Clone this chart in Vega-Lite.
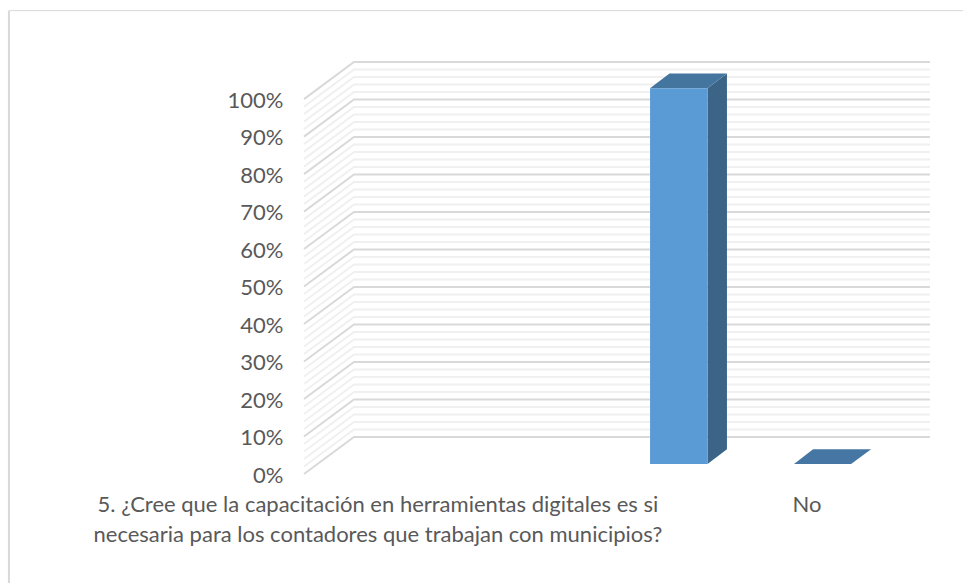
{"$schema":"https://vega.github.io/schema/vega-lite/v6.json","width":626,"height":412,"autosize":"none","padding":{"left":304,"top":62,"right":33,"bottom":109},"background":"white","config":{"view":{"stroke":null}},"datasets":{"grid":[{"g":"0","k":"major","x":0,"p":0},{"g":"0","k":"major","x":0.347,"p":9.9},{"g":"0","k":"major","x":4.347,"p":9.9},{"g":"2","k":"minor","x":0,"p":2},{"g":"2","k":"minor","x":0.347,"p":11.9},{"g":"2","k":"minor","x":4.347,"p":11.9},{"g":"4","k":"minor","x":0,"p":4},{"g":"4","k":"minor","x":0.347,"p":13.9},{"g":"4","k":"minor","x":4.347,"p":13.9},{"g":"6","k":"minor","x":0,"p":6},{"g":"6","k":"minor","x":0.347,"p":15.9},{"g":"6","k":"minor","x":4.347,"p":15.9},{"g":"8","k":"minor","x":0,"p":8},{"g":"8","k":"minor","x":0.347,"p":17.9},{"g":"8","k":"minor","x":4.347,"p":17.9},{"g":"10","k":"major","x":0,"p":10},{"g":"10","k":"major","x":0.347,"p":19.9},{"g":"10","k":"major","x":4.347,"p":19.9},{"g":"12","k":"minor","x":0,"p":12},{"g":"12","k":"minor","x":0.347,"p":21.9},{"g":"12","k":"minor","x":4.347,"p":21.9},{"g":"14","k":"minor","x":0,"p":14},{"g":"14","k":"minor","x":0.347,"p":23.9},{"g":"14","k":"minor","x":4.347,"p":23.9},{"g":"16","k":"minor","x":0,"p":16},{"g":"16","k":"minor","x":0.347,"p":25.9},{"g":"16","k":"minor","x":4.347,"p":25.9},{"g":"18","k":"minor","x":0,"p":18},{"g":"18","k":"minor","x":0.347,"p":27.9},{"g":"18","k":"minor","x":4.347,"p":27.9},{"g":"20","k":"major","x":0,"p":20},{"g":"20","k":"major","x":0.347,"p":29.9},{"g":"20","k":"major","x":4.347,"p":29.9},{"g":"22","k":"minor","x":0,"p":22},{"g":"22","k":"minor","x":0.347,"p":31.9},{"g":"22","k":"minor","x":4.347,"p":31.9},{"g":"24","k":"minor","x":0,"p":24},{"g":"24","k":"minor","x":0.347,"p":33.9},{"g":"24","k":"minor","x":4.347,"p":33.9},{"g":"26","k":"minor","x":0,"p":26},{"g":"26","k":"minor","x":0.347,"p":35.9},{"g":"26","k":"minor","x":4.347,"p":35.9},{"g":"28","k":"minor","x":0,"p":28},{"g":"28","k":"minor","x":0.347,"p":37.9},{"g":"28","k":"minor","x":4.347,"p":37.9},{"g":"30","k":"major","x":0,"p":30},{"g":"30","k":"major","x":0.347,"p":39.9},{"g":"30","k":"major","x":4.347,"p":39.9},{"g":"32","k":"minor","x":0,"p":32},{"g":"32","k":"minor","x":0.347,"p":41.9},{"g":"32","k":"minor","x":4.347,"p":41.9},{"g":"34","k":"minor","x":0,"p":34},{"g":"34","k":"minor","x":0.347,"p":43.9},{"g":"34","k":"minor","x":4.347,"p":43.9},{"g":"36","k":"minor","x":0,"p":36},{"g":"36","k":"minor","x":0.347,"p":45.9},{"g":"36","k":"minor","x":4.347,"p":45.9},{"g":"38","k":"minor","x":0,"p":38},{"g":"38","k":"minor","x":0.347,"p":47.9},{"g":"38","k":"minor","x":4.347,"p":47.9},{"g":"40","k":"major","x":0,"p":40},{"g":"40","k":"major","x":0.347,"p":49.9},{"g":"40","k":"major","x":4.347,"p":49.9},{"g":"42","k":"minor","x":0,"p":42},{"g":"42","k":"minor","x":0.347,"p":51.9},{"g":"42","k":"minor","x":4.347,"p":51.9},{"g":"44","k":"minor","x":0,"p":44},{"g":"44","k":"minor","x":0.347,"p":53.9},{"g":"44","k":"minor","x":4.347,"p":53.9},{"g":"46","k":"minor","x":0,"p":46},{"g":"46","k":"minor","x":0.347,"p":55.9},{"g":"46","k":"minor","x":4.347,"p":55.9},{"g":"48","k":"minor","x":0,"p":48},{"g":"48","k":"minor","x":0.347,"p":57.9},{"g":"48","k":"minor","x":4.347,"p":57.9},{"g":"50","k":"major","x":0,"p":50},{"g":"50","k":"major","x":0.347,"p":59.9},{"g":"50","k":"major","x":4.347,"p":59.9},{"g":"52","k":"minor","x":0,"p":52},{"g":"52","k":"minor","x":0.347,"p":61.9},{"g":"52","k":"minor","x":4.347,"p":61.9},{"g":"54","k":"minor","x":0,"p":54},{"g":"54","k":"minor","x":0.347,"p":63.9},{"g":"54","k":"minor","x":4.347,"p":63.9},{"g":"56","k":"minor","x":0,"p":56},{"g":"56","k":"minor","x":0.347,"p":65.9},{"g":"56","k":"minor","x":4.347,"p":65.9},{"g":"58","k":"minor","x":0,"p":58},{"g":"58","k":"minor","x":0.347,"p":67.9},{"g":"58","k":"minor","x":4.347,"p":67.9},{"g":"60","k":"major","x":0,"p":60},{"g":"60","k":"major","x":0.347,"p":69.9},{"g":"60","k":"major","x":4.347,"p":69.9},{"g":"62","k":"minor","x":0,"p":62},{"g":"62","k":"minor","x":0.347,"p":71.9},{"g":"62","k":"minor","x":4.347,"p":71.9},{"g":"64","k":"minor","x":0,"p":64},{"g":"64","k":"minor","x":0.347,"p":73.9},{"g":"64","k":"minor","x":4.347,"p":73.9},{"g":"66","k":"minor","x":0,"p":66},{"g":"66","k":"minor","x":0.347,"p":75.9},{"g":"66","k":"minor","x":4.347,"p":75.9},{"g":"68","k":"minor","x":0,"p":68},{"g":"68","k":"minor","x":0.347,"p":77.9},{"g":"68","k":"minor","x":4.347,"p":77.9},{"g":"70","k":"major","x":0,"p":70},{"g":"70","k":"major","x":0.347,"p":79.9},{"g":"70","k":"major","x":4.347,"p":79.9},{"g":"72","k":"minor","x":0,"p":72},{"g":"72","k":"minor","x":0.347,"p":81.9},{"g":"72","k":"minor","x":4.347,"p":81.9},{"g":"74","k":"minor","x":0,"p":74},{"g":"74","k":"minor","x":0.347,"p":83.9},{"g":"74","k":"minor","x":4.347,"p":83.9},{"g":"76","k":"minor","x":0,"p":76},{"g":"76","k":"minor","x":0.347,"p":85.9},{"g":"76","k":"minor","x":4.347,"p":85.9},{"g":"78","k":"minor","x":0,"p":78},{"g":"78","k":"minor","x":0.347,"p":87.9},{"g":"78","k":"minor","x":4.347,"p":87.9},{"g":"80","k":"major","x":0,"p":80},{"g":"80","k":"major","x":0.347,"p":89.9},{"g":"80","k":"major","x":4.347,"p":89.9},{"g":"82","k":"minor","x":0,"p":82},{"g":"82","k":"minor","x":0.347,"p":91.9},{"g":"82","k":"minor","x":4.347,"p":91.9},{"g":"84","k":"minor","x":0,"p":84},{"g":"84","k":"minor","x":0.347,"p":93.9},{"g":"84","k":"minor","x":4.347,"p":93.9},{"g":"86","k":"minor","x":0,"p":86},{"g":"86","k":"minor","x":0.347,"p":95.9},{"g":"86","k":"minor","x":4.347,"p":95.9},{"g":"88","k":"minor","x":0,"p":88},{"g":"88","k":"minor","x":0.347,"p":97.9},{"g":"88","k":"minor","x":4.347,"p":97.9},{"g":"90","k":"major","x":0,"p":90},{"g":"90","k":"major","x":0.347,"p":99.9},{"g":"90","k":"major","x":4.347,"p":99.9},{"g":"92","k":"minor","x":0,"p":92},{"g":"92","k":"minor","x":0.347,"p":101.9},{"g":"92","k":"minor","x":4.347,"p":101.9},{"g":"94","k":"minor","x":0,"p":94},{"g":"94","k":"minor","x":0.347,"p":103.9},{"g":"94","k":"minor","x":4.347,"p":103.9},{"g":"96","k":"minor","x":0,"p":96},{"g":"96","k":"minor","x":0.347,"p":105.9},{"g":"96","k":"minor","x":4.347,"p":105.9},{"g":"98","k":"minor","x":0,"p":98},{"g":"98","k":"minor","x":0.347,"p":107.9},{"g":"98","k":"minor","x":4.347,"p":107.9},{"g":"100","k":"major","x":0,"p":100},{"g":"100","k":"major","x":0.347,"p":109.9},{"g":"100","k":"major","x":4.347,"p":109.9}],"faces":[{"f":"top_si","x":2.403,"y":102.9,"y2":102.9},{"f":"top_si","x":2.538,"y":106.8,"y2":102.9},{"f":"top_si","x":2.802,"y":106.8,"y2":102.9},{"f":"top_si","x":2.937,"y":106.8,"y2":106.8},{"f":"side_si","x":2.802,"y":2.7,"y2":102.9},{"f":"side_si","x":2.937,"y":6.6,"y2":106.8},{"f":"top_no","x":3.403,"y":2.7,"y2":2.7},{"f":"top_no","x":3.535,"y":6.6,"y2":2.7},{"f":"top_no","x":3.799,"y":6.6,"y2":2.7},{"f":"top_no","x":3.938,"y":6.6,"y2":6.6}]},"layer":[{"data":{"values":[{"a":-2.049,"b":4.576,"c":123.6}]},"mark":{"type":"rule","stroke":"#d9d9d9","strokeWidth":1,"clip":false},"encoding":{"x":{"field":"a","type":"quantitative","scale":{"domain":[0,4.347],"nice":false,"zero":false},"axis":{"values":[0.51,3.49],"labelExpr":"datum.value<1?['\u00a0\u00a0\u00a0\u00a0\u00a0\u00a0\u00a0\u00a05. ¿Cree que la capacitación en herramientas digitales es si','necesaria para los contadores que trabajan con municipios?']:'No'","labelFont":"Lato","labelFontSize":22,"labelLimit":900,"labelColor":"#595959","labelPadding":20,"labelLineHeight":30,"labelOverlap":false,"labelBound":false,"labelFlush":false,"domain":false,"ticks":false,"grid":false,"title":null}},"x2":{"field":"b"},"y":{"field":"c","type":"quantitative","scale":{"domain":[0,109.9],"nice":false,"zero":false},"axis":{"values":[0,10,20,30,40,50,60,70,80,90,100],"labelExpr":"datum.value+'%'","labelFont":"Lato","labelFontSize":22,"labelColor":"#595959","labelPadding":21,"labelOffset":1,"domain":false,"ticks":false,"grid":false,"title":null}}}},{"data":{"values":[{"a":-2.049,"c":123.6,"d":-29.1}]},"mark":{"type":"rule","stroke":"#d9d9d9","strokeWidth":2,"clip":false},"encoding":{"x":{"field":"a","type":"quantitative"},"y":{"field":"c","type":"quantitative"},"y2":{"field":"d"}}},{"data":{"name":"grid"},"transform":[{"filter":"datum.k==='minor'"}],"mark":{"type":"line","stroke":"#f0f0f0","strokeWidth":2,"interpolate":"linear","clip":false},"encoding":{"x":{"field":"x","type":"quantitative"},"y":{"field":"p","type":"quantitative"},"detail":{"field":"g"}}},{"data":{"name":"grid"},"transform":[{"filter":"datum.k==='major'"}],"mark":{"type":"line","stroke":"#d9d9d9","strokeWidth":2,"clip":false},"encoding":{"x":{"field":"x","type":"quantitative"},"y":{"field":"p","type":"quantitative"},"detail":{"field":"g"}}},{"data":{"name":"faces"},"transform":[{"filter":"datum.f==='side_si'"}],"mark":{"type":"area","fill":"#3b6486","clip":false},"encoding":{"x":{"field":"x","type":"quantitative"},"y":{"field":"y","type":"quantitative"},"y2":{"field":"y2"}}},{"data":{"name":"faces"},"transform":[{"filter":"datum.f==='top_si'"}],"mark":{"type":"area","fill":"#44759f","clip":false},"encoding":{"x":{"field":"x","type":"quantitative"},"y":{"field":"y","type":"quantitative"},"y2":{"field":"y2"}}},{"data":{"name":"faces"},"transform":[{"filter":"datum.f==='top_no'"}],"mark":{"type":"area","fill":"#4676a3","clip":false},"encoding":{"x":{"field":"x","type":"quantitative"},"y":{"field":"y","type":"quantitative"},"y2":{"field":"y2"}}},{"data":{"values":[{"r":"si","x":2.403,"x2":2.802,"v":102.9,"v0":2.7}]},"mark":{"type":"rect","fill":"#5b9bd5","clip":false},"encoding":{"x":{"field":"x","type":"quantitative"},"x2":{"field":"x2"},"y":{"field":"v","type":"quantitative"},"y2":{"field":"v0"}}}]}
